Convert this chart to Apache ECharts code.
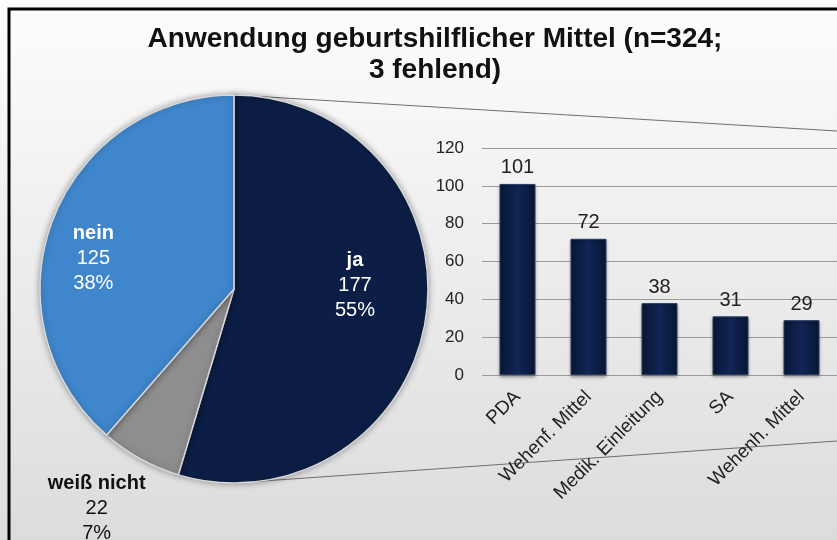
<!DOCTYPE html>
<html>
<head>
<meta charset="utf-8">
<script src="https://cdn.jsdelivr.net/npm/echarts@6/dist/echarts.min.js"></script>
<style>
  html, body { margin: 0; padding: 0; }
  #chart { width: 837px; height: 540px; }
</style>
</head>
<body>
<div id="chart"></div>
<script>
// Kreisdiagramm: Anwendung ja / weiß nicht / nein
const pieNames = ['ja', 'weiß nicht', 'nein'];
const pieValues = [177, 22, 125];
const pieColors = ['#0c1e45', '#8e8e8e', '#3f86cc'];

// Säulendiagramm: welche Mittel
const barCategories = ['PDA', 'Wehenf. Mittel', 'Medik. Einleitung', 'SA', 'Wehenh. Mittel'];
const barValues = [101, 72, 38, 31, 29];
const yMin = 0, yMax = 120, yStep = 20;

const font = 'Liberation Sans, Arial, sans-serif';
const pieCenter = [234, 289];
const pieRadius = 194;
const gridLeft = 482, gridTop = 148, gridHeight = 227;

// label offsets (per slice) so the text sits where the original has it
const labelOffsets = [[22, -18], [-89, 132], [-47, 5]];
const labelColors = ['#ffffff', '#111111', '#ffffff'];

const chart = echarts.init(document.getElementById('chart'));

const option = {
  backgroundColor: {
    type: 'linear', x: 0, y: 0, x2: 0, y2: 1,
    colorStops: [
      { offset: 0, color: '#fdfdfd' },
      { offset: 1, color: '#dcdcdc' }
    ]
  },
  title: {
    text: 'Anwendung geburtshilflicher Mittel (n=324;\n3 fehlend)',
    left: 430,
    top: 19,
    textAlign: 'center',
    textStyle: {
      fontFamily: font,
      fontSize: 28,
      fontWeight: 'bold',
      color: '#111',
      lineHeight: 31
    }
  },
  grid: {
    left: gridLeft,
    top: gridTop,
    height: gridHeight,
    width: 366
  },
  xAxis: {
    type: 'category',
    data: barCategories,
    axisLine: { show: false },
    axisTick: { show: false },
    axisLabel: {
      rotate: 45,
      interval: 0,
      margin: 19,
      fontFamily: font,
      fontSize: 19,
      color: '#222'
    }
  },
  yAxis: {
    type: 'value',
    min: yMin,
    max: yMax,
    interval: yStep,
    axisLine: { show: false },
    axisTick: { show: false },
    axisLabel: {
      margin: 18,
      fontFamily: font,
      fontSize: 17,
      color: '#222'
    },
    splitLine: { lineStyle: { color: '#9a9a9a', width: 1 } }
  },
  series: [
    {
      type: 'pie',
      center: pieCenter,
      radius: pieRadius,
      startAngle: 90,
      clockwise: true,
      percentPrecision: 0,
      silent: true,
      data: pieNames.map((n, i) => ({
        name: n,
        value: pieValues[i],
        itemStyle: { color: pieColors[i] },
        label: {
          offset: labelOffsets[i],
          color: labelColors[i],
          rich: {
            b: { fontFamily: font, fontSize: 20, fontWeight: 'bold', color: labelColors[i], lineHeight: 25 },
            n: { fontFamily: font, fontSize: 20, color: labelColors[i], lineHeight: 25 }
          }
        }
      })),
      itemStyle: {
        borderColor: '#d8d8d8',
        borderWidth: 1.5,
        shadowBlur: 6,
        shadowColor: 'rgba(0,0,0,0.35)'
      },
      label: {
        position: 'inside',
        align: 'center',
        formatter: p => '{b|' + p.name + '}\n{n|' + p.value + '}\n{n|' + p.percent + '%}'
      },
      labelLine: { show: false }
    },
    {
      type: 'bar',
      data: barValues,
      barWidth: 36,
      itemStyle: {
        color: {
          type: 'linear', x: 0, y: 0, x2: 1, y2: 0,
          colorStops: [
            { offset: 0, color: '#081634' },
            { offset: 0.5, color: '#112656' },
            { offset: 1, color: '#081634' }
          ]
        },
        borderColor: '#2b3d63',
        borderWidth: 1,
        shadowBlur: 3,
        shadowOffsetY: 2,
        shadowColor: 'rgba(0,0,0,0.3)'
      },
      label: {
        show: true,
        position: 'top',
        distance: 6,
        fontFamily: font,
        fontSize: 20,
        color: '#222'
      }
    }
  ],
  graphic: [
    // Rahmen
    {
      type: 'rect',
      shape: { x: 9, y: 9, width: 900, height: 600 },
      style: { fill: 'none', stroke: '#000', lineWidth: 3 },
      z: 100
    },
    // Verbindungslinien vom Kreis zum Säulendiagramm
    {
      type: 'line',
      shape: { x1: pieCenter[0], y1: pieCenter[1] - pieRadius, x2: 837, y2: 131 },
      style: { stroke: '#6f6f6f', lineWidth: 1.2 },
      z: -1
    },
    {
      type: 'line',
      shape: { x1: pieCenter[0], y1: pieCenter[1] + pieRadius, x2: 837, y2: 441 },
      style: { stroke: '#6f6f6f', lineWidth: 1.2 },
      z: -1
    }
  ]
};

chart.setOption(option);
</script>
</body>
</html>
